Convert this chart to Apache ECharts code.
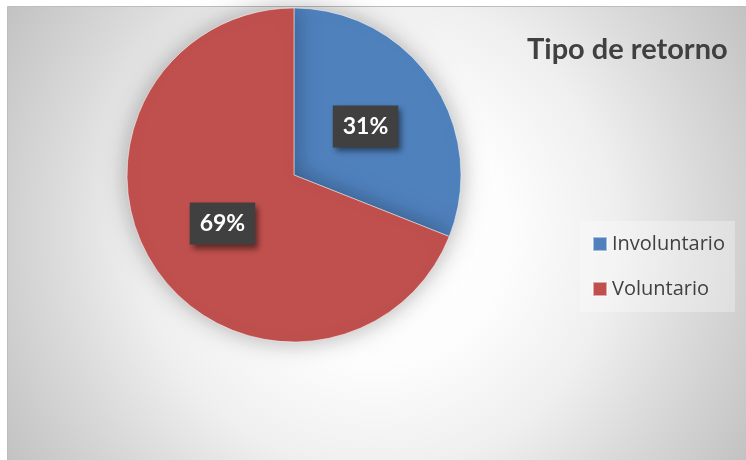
<!DOCTYPE html>
<html>
<head>
<meta charset="utf-8">
<script src="https://cdn.jsdelivr.net/npm/echarts@6/dist/echarts.min.js"></script>
<style>
html,body{margin:0;padding:0;background:#fff;}
#c{width:746px;height:460px;}
</style>
</head>
<body>
<div id="c"></div>
<script>
const titleText = 'Tipo de retorno';
const categories = ['Involuntario', 'Voluntario'];
const values = [31, 69];
const colors = ['#4F81BD', '#C0504D'];

const chart = echarts.init(document.getElementById('c'), null, {renderer: 'canvas'});
const FONT = 'Lato, "Open Sans", sans-serif';

chart.setOption({
  animation: false,
  graphic: [
    {
      type: 'rect', z: 0, silent: true,
      shape: {x: 7.5, y: 6.5, width: 740, height: 455},
      style: {
        fill: {
          type: 'radial', x: 377, y: 233, r: 434, global: true,
          colorStops: [
            {offset: 0, color: '#ffffff'},
            {offset: 0.3, color: '#fdfdfd'},
            {offset: 0.55, color: '#efefef'},
            {offset: 0.75, color: '#dadada'},
            {offset: 1, color: '#c2c2c2'}
          ]
        },
        stroke: '#bdbdbd', lineWidth: 1
      }
    }
  ],
  title: {
    text: titleText,
    left: 522, top: 30,
    textStyle: {fontFamily: FONT, fontSize: 29, fontWeight: 'bold', color: '#404040'}
  },
  legend: {
    orient: 'vertical',
    left: 580, top: 221,
    width: 130,
    padding: [13, 10, 13, 12],
    backgroundColor: 'rgba(255,255,255,0.3)',
    icon: 'rect',
    itemWidth: 14, itemHeight: 14,
    itemGap: 25,
    data: categories,
    textStyle: {fontFamily: '"Open Sans", sans-serif', fontSize: 20, lineHeight: 20, color: '#404040'}
  },
  series: [{
    type: 'pie',
    center: [294, 175],
    radius: 167,
    startAngle: 90,
    clockwise: true,
    silent: true,
    itemStyle: {
      borderColor: 'rgba(255,255,255,0.5)', borderWidth: 1,
      shadowBlur: 25, shadowColor: 'rgba(0,0,0,0.3)'
    },
    label: {
      position: 'inside',
      formatter: p => p.value + '%',
      fontFamily: FONT, fontSize: 23, fontWeight: 'bold', color: '#ffffff',
      backgroundColor: '#404040',
      padding: [10, 10, 9, 10],
      shadowColor: 'rgba(0,0,0,0.5)', shadowBlur: 6, shadowOffsetX: 3, shadowOffsetY: 4
    },
    labelLine: {show: false},
    data: categories.map((c, i) => ({name: c, value: values[i], itemStyle: {color: colors[i]}}))
  }]
});
</script>
</body>
</html>
